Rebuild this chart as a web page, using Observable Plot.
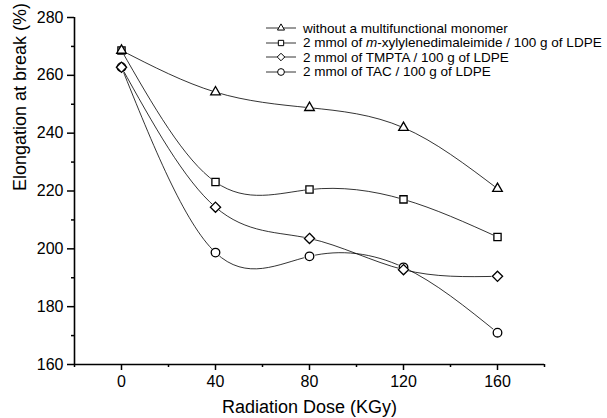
<!DOCTYPE html>
<html><head><meta charset="utf-8">
<script src="https://cdn.jsdelivr.net/npm/d3@7"></script>
<script src="https://cdn.jsdelivr.net/npm/@observablehq/plot@0.6"></script>
<style>
body{margin:0;background:#fff;}
#wrap{position:relative;width:607px;height:418px;font-family:"Liberation Sans",Arial,sans-serif;}
#legend{position:absolute;left:266px;top:21px;font-size:13.5px;color:#000;}
#legend .row{display:flex;align-items:center;height:14.5px;white-space:nowrap;}
#legend svg{margin-right:7px;flex:none;}
</style></head><body><div id="wrap"></div>
<script>
const doses = [0, 40, 80, 120, 160];
const seriesNames = [
  "without a multifunctional monomer",
  "2 mmol of m-xylylenedimaleimide / 100 g of LDPE",
  "2 mmol of TMPTA / 100 g of LDPE",
  "2 mmol of TAC / 100 g of LDPE"
];
const withoutMonomer = [268.6, 254.2, 248.8, 241.9, 220.8];
const xylylene = [268.6, 223.1, 220.5, 217.1, 204.1];
const tmpta = [262.8, 214.4, 203.6, 192.8, 190.5];
const tac = [262.8, 198.7, 197.4, 193.6, 171.0];
const seriesSymbols = ["triangle2", "square2", "diamond2", "circle"];
const seriesRadii = [4.6, 4.6, 4.6, 4.3];
const xMajorTicks = [0, 40, 80, 120, 160];
const xMinorTicks = [-20, 20, 60, 100, 140, 180];
const yMajorTicks = [160, 180, 200, 220, 240, 260, 280];
const yMinorTicks = [170, 190, 210, 230, 250, 270];
const xLabel = "Radiation Dose (KGy)";
const yLabel = "Elongation at break (%)";

const allSeries = [withoutMonomer, xylylene, tmpta, tac];
const data = allSeries.flatMap((vals, i) => vals.map((v, j) => ({series: seriesNames[i], dose: doses[j], value: v, k: i})));

const marks = [
  Plot.line(data, {x: "dose", y: "value", z: "series", curve: "natural", stroke: "#000", strokeWidth: 0.8})
];
// white halos first, then markers drawn so the first series ends on top
const order = [3, 2, 1, 0];
order.forEach(i => {
  const sub = data.filter(d => d.k === i);
  marks.push(Plot.dot(sub, {x: "dose", y: "value", symbol: () => seriesSymbols[i], r: seriesRadii[i] + 1.2, fill: "#fff", stroke: "none"}));
});
order.forEach(i => {
  const sub = data.filter(d => d.k === i);
  marks.push(Plot.dot(sub, {x: "dose", y: "value", symbol: () => seriesSymbols[i], r: seriesRadii[i], fill: "#fff", stroke: "#000", strokeWidth: 1.3}));
});
marks.push(
  Plot.axisX(xMajorTicks, {tickSize: 6, tickPadding: 5, fontSize: 16, strokeWidth: 1.5, label: null}),
  Plot.axisX(xMinorTicks, {tickSize: 3, tickFormat: () => "", strokeWidth: 1.5, label: null}),
  Plot.axisY(yMajorTicks, {tickSize: 7, tickPadding: 4, fontSize: 16, strokeWidth: 1.5, label: null}),
  Plot.axisY(yMinorTicks, {tickSize: 3, tickFormat: () => "", strokeWidth: 1.5, label: null}),
  Plot.ruleY([160], {stroke: "#000", strokeWidth: 1.6}),
  Plot.ruleX([-20], {stroke: "#000", strokeWidth: 1.6}),
  Plot.text([xLabel], {frameAnchor: "bottom", dy: 48, fontSize: 18, lineAnchor: "bottom"}),
  Plot.text([yLabel], {frameAnchor: "left", dx: -54, rotate: -90, fontSize: 18})
);

const chart = Plot.plot({
  width: 607, height: 418,
  marginLeft: 74, marginRight: 63, marginTop: 17, marginBottom: 54,
  style: {fontFamily: '"Liberation Sans", Arial, sans-serif', color: "#000", background: "#fff"},
  x: {domain: [-20, 180]},
  y: {domain: [160, 280]},
  marks
});
const wrap = document.getElementById("wrap");
wrap.appendChild(chart);

// legend
const legend = document.createElement("div");
legend.id = "legend";
const symMap = {triangle2: d3.symbolTriangle2, square2: d3.symbolSquare2, diamond2: d3.symbolDiamond2, circle: d3.symbolCircle};
seriesNames.forEach((name, i) => {
  const row = document.createElement("div");
  row.className = "row";
  const svg = d3.create("svg").attr("width", 30).attr("height", 14);
  svg.append("line").attr("x1", 0).attr("x2", 30).attr("y1", 7).attr("y2", 7).attr("stroke", "#000").attr("stroke-width", 0.8);
  svg.append("path").attr("transform", "translate(15,7)")
    .attr("d", d3.symbol(symMap[seriesSymbols[i]], 36)())
    .attr("fill", "#fff").attr("stroke", "#000").attr("stroke-width", 1);
  row.appendChild(svg.node());
  const span = document.createElement("span");
  if (name.includes("m-xylyl")) {
    const idx = name.indexOf("m-xylyl");
    span.append(name.slice(0, idx));
    const it = document.createElement("i"); it.textContent = "m"; span.append(it);
    span.append(name.slice(idx + 1));
  } else span.textContent = name;
  row.appendChild(span);
  legend.appendChild(row);
});
wrap.appendChild(legend);
</script>
</body></html>
